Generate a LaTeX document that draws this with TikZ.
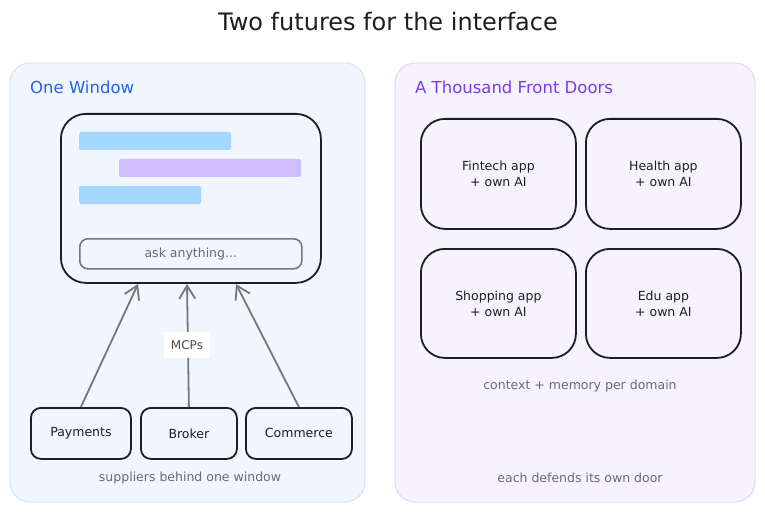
\documentclass[tikz,border=0pt]{standalone}
\usepackage{fontspec}
\setmainfont{DejaVu Sans}
\usetikzlibrary{arrows.meta,positioning,calc}
\definecolor{lpanelfill}{HTML}{F1F5FE}
\definecolor{lpaneldraw}{HTML}{C9DEF7}
\definecolor{rpanelfill}{HTML}{F6F3FE}
\definecolor{rpaneldraw}{HTML}{DCD0FA}
\definecolor{titleblue}{HTML}{2563EB}
\definecolor{titlepurple}{HTML}{7C3AED}
\definecolor{barblue}{HTML}{A5D8FF}
\definecolor{barpurple}{HTML}{D0BFFF}
\definecolor{ink}{HTML}{1E1E1E}
\definecolor{soft}{HTML}{6B6B6B}
\definecolor{arrowgray}{HTML}{777777}
\tikzset{
  panel/.style={rounded corners=20pt, line width=0.8pt},
  bigbox/.style={draw=ink, line width=1.8pt, rounded corners=24pt, minimum width=#1, align=center, font=\fontsize{12.5}{16}\selectfont, text=ink},
  smallbox/.style={draw=ink, line width=1.8pt, rounded corners=10pt, minimum height=51pt, font=\fontsize{12.5}{14}\selectfont, text=ink},
  bar/.style={draw=none, rounded corners=1.5pt},
  note/.style={font=\fontsize{12.5}{14}\selectfont, text=soft},
  heading/.style={font=\fontsize{16.5}{19}\selectfont, anchor=west, inner sep=0pt},
  supply/.style={draw=arrowgray, line width=1.8pt, -{Straight Barb[length=13pt,width=16pt,line width=1.8pt]}},
}
\begin{document}
\begin{tikzpicture}[x=1pt,y=-1pt]
\useasboundingbox (0,0) rectangle (765,513);
% title
\node[font=\fontsize{24}{28}\selectfont, text=ink] (title) at (388,22) {Two futures for the interface};
% panels
\draw[panel, fill=lpanelfill, draw=lpaneldraw] (10,63) rectangle (365,502);
\draw[panel, fill=rpanelfill, draw=rpaneldraw] (395,63) rectangle (755,502);
\node[heading, text=titleblue] (lhead) at (30,87) {One Window};
\node[heading, text=titlepurple] (rhead) at (415,87) {A Thousand Front Doors};
% window
\node[draw=ink, line width=1.8pt, rounded corners=25pt, minimum width=260pt, minimum height=169pt, anchor=north west] (win) at (60,113) {};
\fill[barblue, bar] (79,132) rectangle (231,150);
\fill[barpurple, bar] (119,159) rectangle (301,177);
\fill[barblue, bar] (79,186) rectangle (201,204);
\node[draw=arrowgray, line width=1.6pt, rounded corners=8pt, minimum width=222pt, minimum height=30pt, anchor=north west, font=\fontsize{12.5}{14}\selectfont, text=soft] (ask) at (79,238) {ask anything...};
% suppliers
\node[smallbox, minimum width=100pt, anchor=north west] (pay) at (30,407) {Payments};
\node[smallbox, minimum width=96pt, anchor=north west] (brk) at (140,407) {Broker};
\node[smallbox, minimum width=106pt, anchor=north west] (com) at (245,407) {Commerce};
\coordinate (w1) at (138,284);
\coordinate (w2) at (187,284);
\coordinate (w3) at (236,284);
\draw[supply] (pay.north) -- (w1);
\draw[supply] (brk.north) -- (w2);
\draw[supply] (com.north) -- (w3);
\node[fill=white, inner sep=0pt, minimum width=46pt, minimum height=26pt, font=\fontsize{12}{14}\selectfont, text=ink!80] (mcp) at (187,345) {MCPs};
\node[note] (lnote) at (190,478) {suppliers behind one window};
% right apps
\node[bigbox=155pt, minimum height=110pt, anchor=north west] (fin) at (420,118) {Fintech app\\+ own AI};
\node[bigbox=155pt, minimum height=110pt, anchor=north west] (hea) at (585,118) {Health app\\+ own AI};
\node[bigbox=155pt, minimum height=109pt, anchor=north west] (sho) at (420,248) {Shopping app\\+ own AI};
\node[bigbox=155pt, minimum height=109pt, anchor=north west] (edu) at (585,248) {Edu app\\+ own AI};
\node[note] (ctx) at (580,386) {context + memory per domain};
\node[note] (rnote) at (580,478) {each defends its own door};
\end{tikzpicture}
\end{document}
